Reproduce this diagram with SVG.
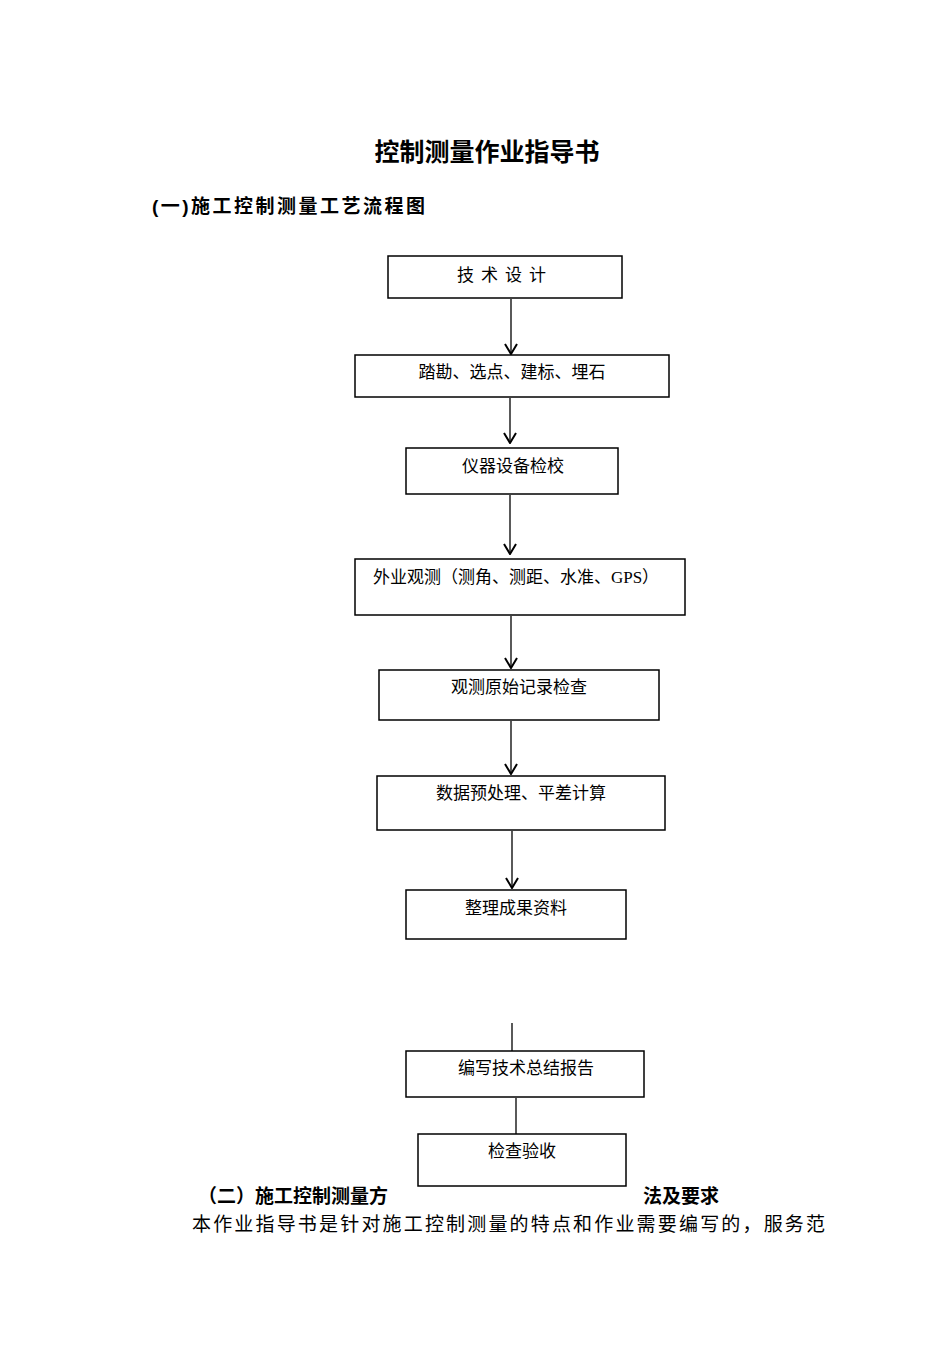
<svg xmlns="http://www.w3.org/2000/svg" width="950" height="1350" viewBox="0 0 950 1350">
<style>
.b{fill:#fff;stroke:#000;stroke-width:1.5}
.t{font-family:"Liberation Serif","Noto Sans CJK SC",serif;font-size:17px;fill:#000;text-anchor:middle}
.h{font-family:"Liberation Sans","Noto Sans CJK SC",sans-serif;font-weight:bold;fill:#000}
.c{stroke:#000;stroke-width:1.3;fill:none}
</style>
<defs><marker id="a" markerWidth="12" markerHeight="14" refX="11" refY="7" orient="auto" markerUnits="userSpaceOnUse" viewBox="0 0 12 14"><path d="M1,1 L11,7 L1,13" fill="none" stroke="#000" stroke-width="2"/></marker></defs>
<rect width="950" height="1350" fill="#fff"/>
<text class="h" x="487" y="161" font-size="25" text-anchor="middle">控制测量作业指导书</text>
<text class="h" x="152" y="213" font-size="19" textLength="273">(一)施工控制测量工艺流程图</text>
<g id="connectors">
<line class="c" x1="511" y1="299" x2="511" y2="354" marker-end="url(#a)"/>
<line class="c" x1="510" y1="398" x2="510" y2="443" marker-end="url(#a)"/>
<line class="c" x1="510" y1="495" x2="510" y2="554" marker-end="url(#a)"/>
<line class="c" x1="511" y1="616" x2="511" y2="668" marker-end="url(#a)"/>
<line class="c" x1="511" y1="721" x2="511" y2="774" marker-end="url(#a)"/>
<line class="c" x1="512" y1="831" x2="512" y2="888" marker-end="url(#a)"/>
<line class="c" x1="512" y1="1023" x2="512" y2="1051"/>
<line class="c" x1="516" y1="1098" x2="516" y2="1134"/>
</g>
<g id="n1"><rect class="b" x="388" y="256" width="234" height="42"/><text class="t" x="505" y="281" letter-spacing="7">技术设计</text></g>
<g id="n2"><rect class="b" x="355" y="355" width="314" height="42"/><text class="t" x="512" y="378">踏勘、选点、建标、埋石</text></g>
<g id="n3"><rect class="b" x="406" y="448" width="212" height="46"/><text class="t" x="513" y="472">仪器设备检校</text></g>
<g id="n4"><rect class="b" x="355" y="559" width="330" height="56"/><text class="t" x="516" y="583">外业观测（测角、测距、水准、GPS）</text></g>
<g id="n5"><rect class="b" x="379" y="670" width="280" height="50"/><text class="t" x="519" y="693">观测原始记录检查</text></g>
<g id="n6"><rect class="b" x="377" y="776" width="288" height="54"/><text class="t" x="521" y="799">数据预处理、平差计算</text></g>
<g id="n7"><rect class="b" x="406" y="890" width="220" height="49"/><text class="t" x="516" y="914">整理成果资料</text></g>
<g id="n8"><rect class="b" x="406" y="1051" width="238" height="46"/><text class="t" x="526" y="1074">编写技术总结报告</text></g>
<g id="n9"><rect class="b" x="418" y="1134" width="208" height="52"/><text class="t" x="522" y="1157">检查验收</text></g>
<text class="h" x="198" y="1203" font-size="19">（二）施工控制测量方</text>
<text class="h" x="643" y="1203" font-size="19">法及要求</text>
<text x="192" y="1231" font-family="Liberation Serif,'Noto Sans CJK SC',serif" font-size="19" textLength="633" fill="#000">本作业指导书是针对施工控制测量的特点和作业需要编写的，服务范</text>
</svg>
